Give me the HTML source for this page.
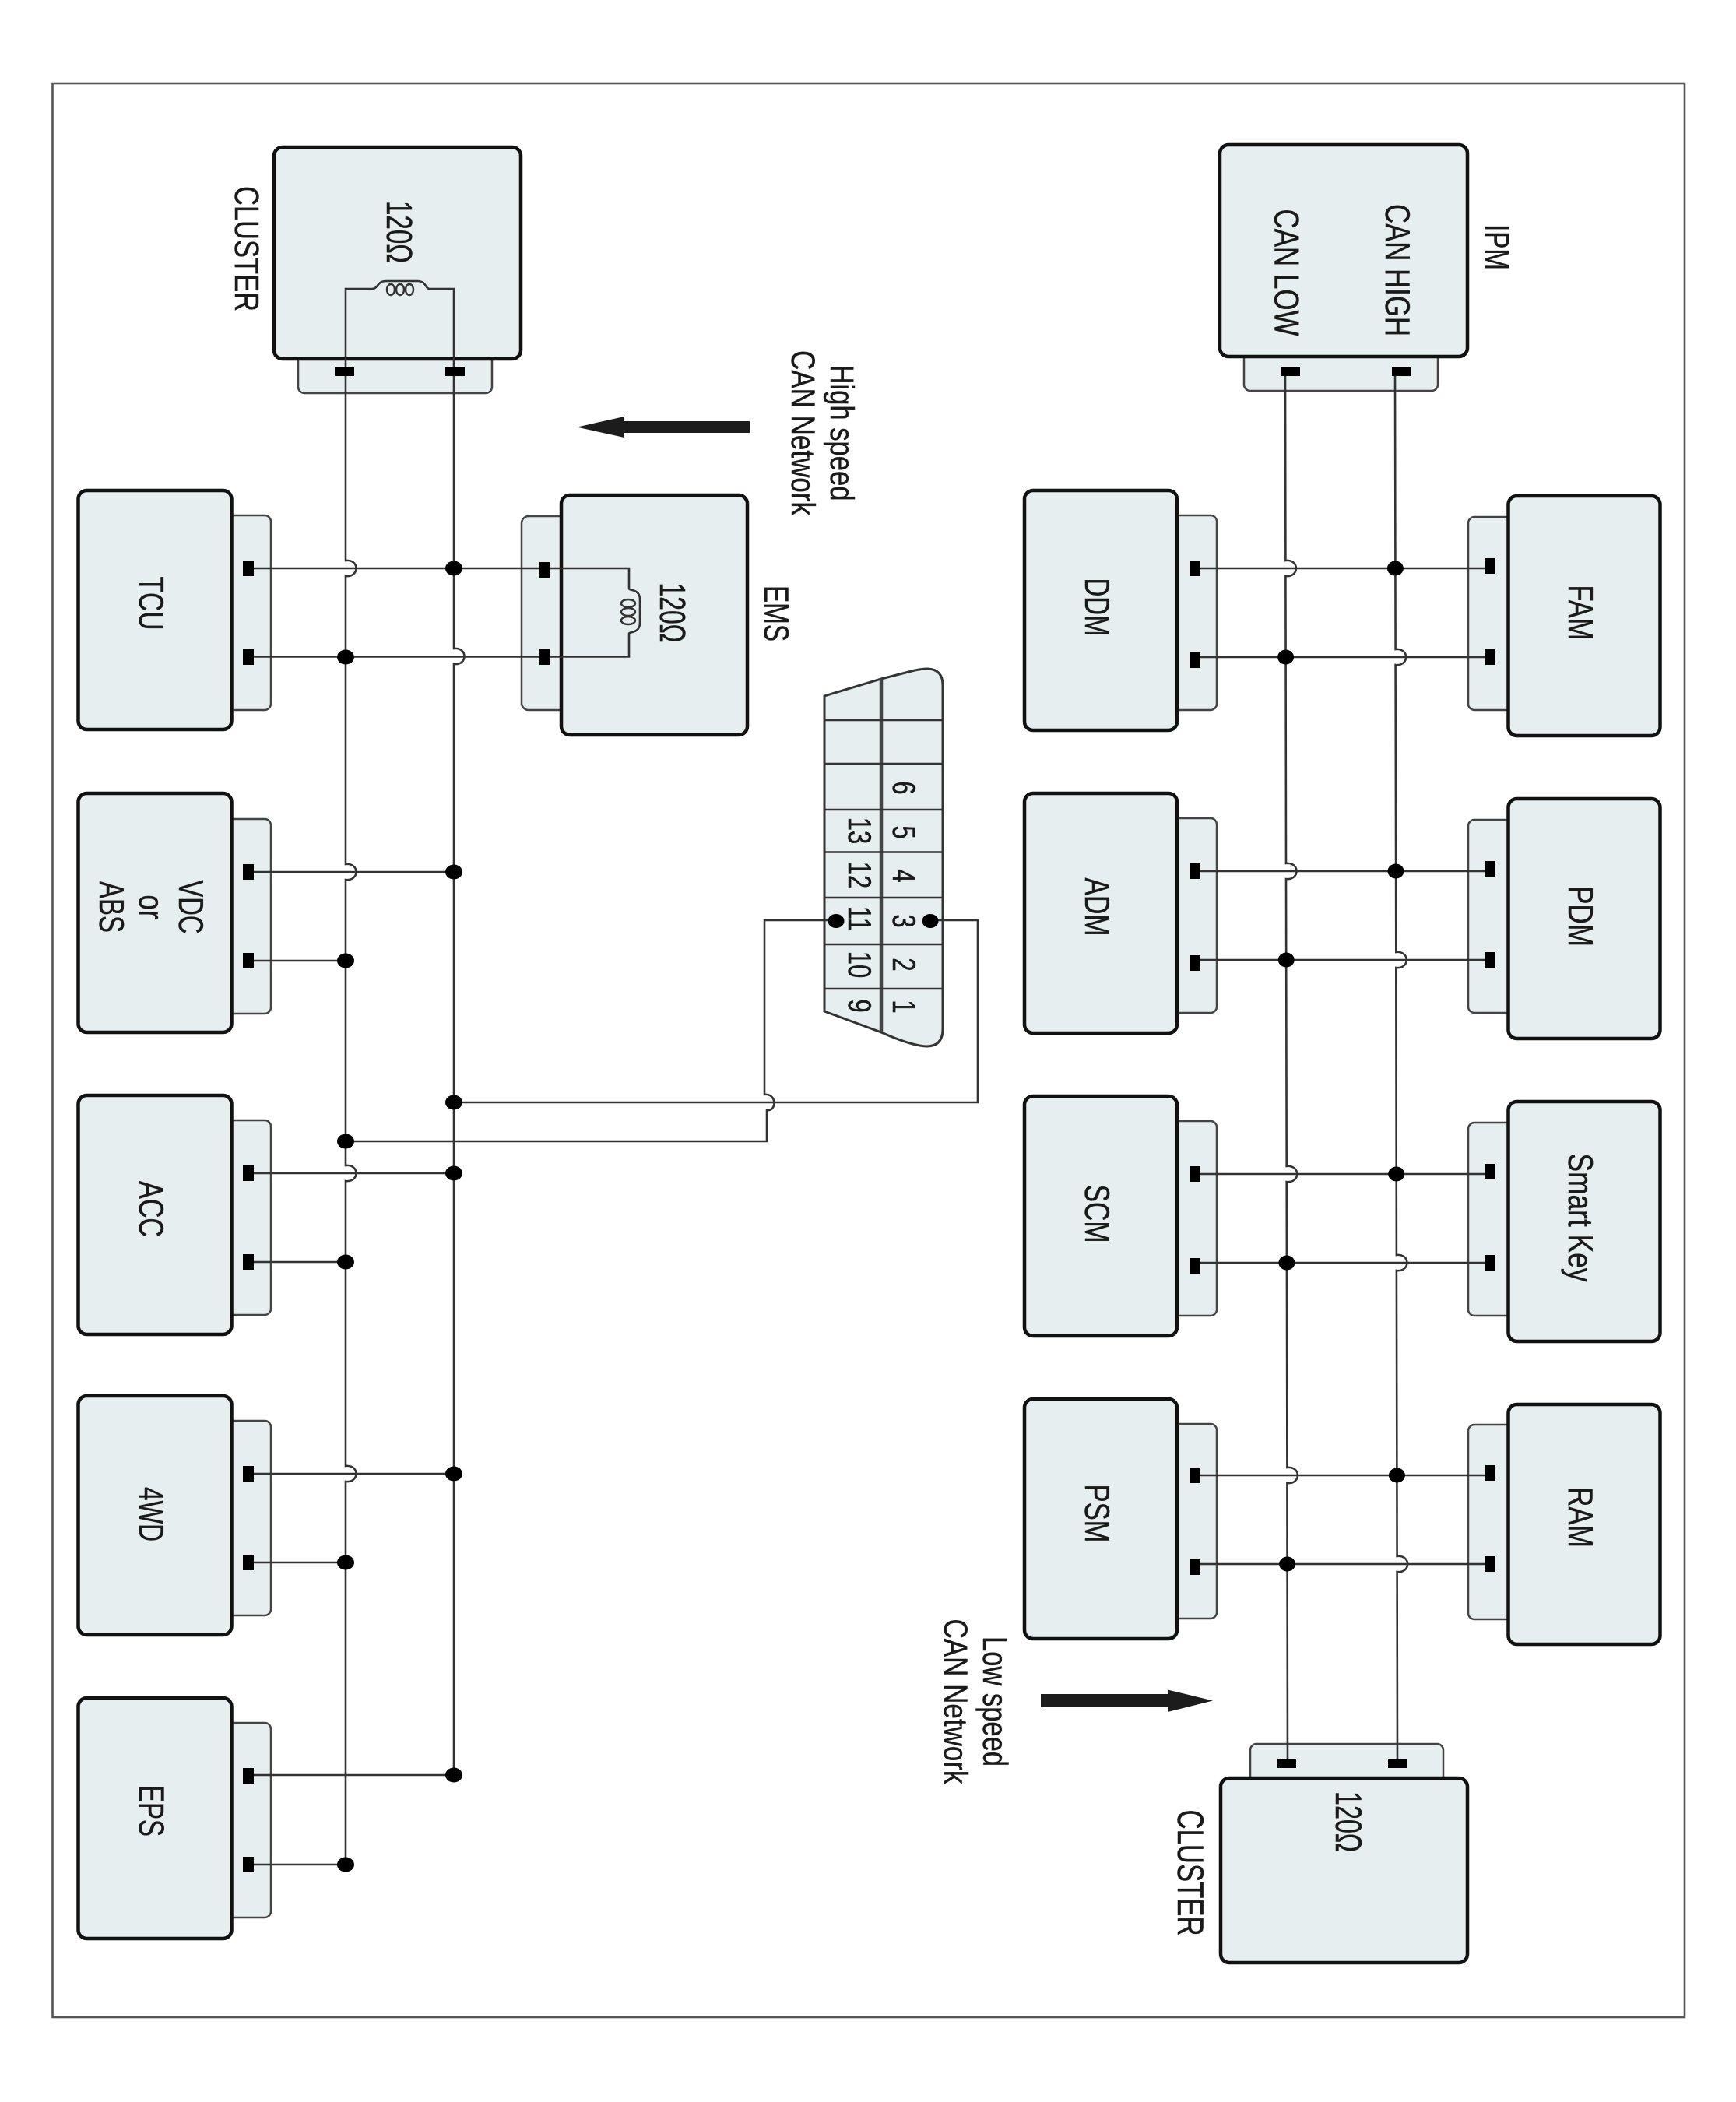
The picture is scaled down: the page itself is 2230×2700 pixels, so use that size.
<!DOCTYPE html>
<html><head><meta charset="utf-8"><style>
html,body{margin:0;padding:0;background:#fff}
svg{display:block}
.b{fill:#e6eef0;stroke:#111;stroke-width:4.5}
.t{fill:#e6eef0;stroke:#444;stroke-width:2.5}
.w{fill:none;stroke:#333;stroke-width:2.6}
.p{fill:#000}
.d{fill:#000}
text{font-family:"Liberation Sans",sans-serif;font-size:33px;fill:#1a1a1a;stroke:#1a1a1a;stroke-width:.35;text-anchor:middle}
</style></head><body>
<svg width="2230" height="2700" viewBox="0 0 2230 2700" xmlns="http://www.w3.org/2000/svg">
<rect width="2230" height="2700" fill="#fff"/>
<rect x="67.5" y="107" width="2096.5" height="2484" fill="#fff" stroke="#555" stroke-width="2.6"/>

<!-- tabs -->
<g class="t">
<rect class="t" x="383" y="430" width="249" height="75" rx="8"/>
<rect class="t" x="1598" y="430" width="249" height="72" rx="8"/>
<rect class="t" x="1606" y="2240" width="248" height="70" rx="8"/>
<rect class="t" x="670" y="663" width="80" height="249" rx="9"/>
<rect class="t" x="270" y="662" width="78" height="250" rx="8"/>
<rect class="t" x="270" y="1052" width="78" height="250" rx="8"/>
<rect class="t" x="270" y="1439" width="78" height="250" rx="8"/>
<rect class="t" x="270" y="1825" width="78" height="250" rx="8"/>
<rect class="t" x="270" y="2213" width="78" height="250" rx="8"/>
<rect class="t" x="1490" y="662" width="73" height="250" rx="8"/>
<rect class="t" x="1490" y="1051" width="73" height="250" rx="8"/>
<rect class="t" x="1490" y="1440" width="73" height="250" rx="8"/>
<rect class="t" x="1490" y="1829" width="73" height="250" rx="8"/>
<rect class="t" x="1886" y="664" width="80" height="248" rx="8"/>
<rect class="t" x="1886" y="1053" width="80" height="248" rx="8"/>
<rect class="t" x="1886" y="1442" width="80" height="248" rx="8"/>
<rect class="t" x="1886" y="1830" width="80" height="250" rx="8"/>
</g>

<!-- boxes -->
<rect class="b" x="352" y="189" width="317" height="272" rx="11"/>
<rect class="b" x="1567" y="186" width="318" height="272" rx="11"/>
<rect class="b" x="1568" y="2284" width="317" height="237" rx="11"/>
<rect class="b" x="721" y="636" width="239" height="308" rx="11"/>
<rect class="b" x="100.5" y="630" width="197" height="307" rx="11"/>
<rect class="b" x="100.5" y="1019" width="197" height="307" rx="11"/>
<rect class="b" x="100.5" y="1407" width="197" height="307" rx="11"/>
<rect class="b" x="100.5" y="1793" width="197" height="307" rx="11"/>
<rect class="b" x="100.5" y="2181" width="197" height="309" rx="11"/>
<rect class="b" x="1316" y="630" width="196" height="308" rx="11"/>
<rect class="b" x="1316" y="1019" width="196" height="308" rx="11"/>
<rect class="b" x="1316" y="1408" width="196" height="308" rx="11"/>
<rect class="b" x="1316" y="1797" width="196" height="308" rx="11"/>
<rect class="b" x="1937.5" y="637" width="195" height="308" rx="11"/>
<rect class="b" x="1937.5" y="1026" width="195" height="308" rx="11"/>
<rect class="b" x="1937.5" y="1415" width="195" height="308" rx="11"/>
<rect class="b" x="1937.5" y="1804" width="195" height="308" rx="11"/>

<!-- OBD connector -->
<path d="M1059,894 L1132,872 L1175,861 Q1185,859 1192,859 Q1211,860 1211,880 V1322 Q1211,1344 1190,1344 Q1170,1343 1132,1326 L1059,1299 Z" fill="#e6eef0" stroke="#333" stroke-width="3"/>
<path d="M1132,872 V1326" fill="none" stroke="#444" stroke-width="4.5"/>
<path d="M1059,925H1211M1059,981H1211M1059,1040H1211M1059,1094.5H1211M1059,1153H1211M1059,1213H1211M1059,1270H1211" fill="none" stroke="#333" stroke-width="2.4"/>

<!-- wires -->
<path class="w" d="M444,477 V371 H478 C486,371 484,361 496,361 H536 C548,361 546,371 552,371 H583 V477"/>
<g fill="none" stroke="#333" stroke-width="2.4"><ellipse cx="502" cy="372" rx="5" ry="7"/><ellipse cx="514" cy="372" rx="5" ry="7"/><ellipse cx="526" cy="372" rx="5" ry="7"/></g>
<path class="w" d="M444,477 V720 c18,-2 18,22 0,20 V1110 c18,-2 18,22 0,20 V1497 c18,-2 18,22 0,20 V1883 c18,-2 18,22 0,20 V2395"/>
<path class="w" d="M583,477 V833 c18,-2 18,22 0,20 V2280"/>
<path class="w" d="M1651,477 L1651.4,720 c18,-2 18,22 0,20 L1652,1109 c18,-2 18,22 0,20 L1652.7,1498 c18,-2 18,22 0,20 L1653.4,1885 c18,-2 18,22 0,20 L1654,2265"/>
<path class="w" d="M1792,477 L1792.6,834 c18,-2 18,22 0,20 L1793.3,1223 c18,-2 18,22 0,20 L1793.9,1612 c18,-2 18,22 0,20 L1794.6,1999 c18,-2 18,22 0,20 L1795,2265"/>
<!-- horizontals -->
<path class="w" d="M326,730 H808 V756 C808,759 822,756 822,770 V800 C822,814 808,811 808,814 V843.5 H326"/>
<g fill="none" stroke="#333" stroke-width="2.4"><ellipse cx="807" cy="775" rx="9" ry="5"/><ellipse cx="807" cy="786" rx="9" ry="5"/><ellipse cx="807" cy="797" rx="9" ry="5"/></g>
<path class="w" d="M326,1120H583M326,1234H444M326,1507H583M326,1621H444M326,1893H583M326,2007H444M326,2280H583M326,2395H444"/>
<path class="w" d="M1542,730H1908M1542,844H1908M1542,1119H1908M1542,1233H1908M1542,1508H1908M1542,1622H1908M1542,1895H1908M1542,2009H1908"/>
<!-- OBD wires -->
<path class="w" d="M1195,1182 H1256 V1416 H583"/>
<path class="w" d="M1074,1182 H982 V1406 c16,-2 16,22 3,20 V1466 H444"/>

<!-- ports -->
<g class="p">
<rect x="430" y="471" width="25" height="12"/><rect x="572" y="471" width="25" height="12"/>
<rect x="1645" y="471" width="25" height="12"/><rect x="1788" y="471" width="25" height="12"/>
<rect x="1641" y="2259" width="24" height="12"/><rect x="1783" y="2259" width="25" height="12"/>
<rect x="693" y="722" width="14" height="20"/><rect x="693" y="834" width="14" height="20"/>
<rect x="312" y="720" width="14" height="20"/><rect x="312" y="834" width="14" height="20"/>
<rect x="312" y="1110" width="14" height="20"/><rect x="312" y="1224" width="14" height="20"/>
<rect x="312" y="1497" width="14" height="20"/><rect x="312" y="1611" width="14" height="20"/>
<rect x="312" y="1883" width="14" height="20"/><rect x="312" y="1997" width="14" height="20"/>
<rect x="312" y="2271" width="14" height="20"/><rect x="312" y="2385" width="14" height="20"/>
<rect x="1528" y="720" width="14" height="20"/><rect x="1528" y="838" width="14" height="20"/>
<rect x="1528" y="1109" width="14" height="20"/><rect x="1528" y="1227" width="14" height="20"/>
<rect x="1528" y="1498" width="14" height="20"/><rect x="1528" y="1616" width="14" height="20"/>
<rect x="1528" y="1885" width="14" height="20"/><rect x="1528" y="2003" width="14" height="20"/>
<rect x="1908" y="717" width="13" height="20"/><rect x="1908" y="834" width="13" height="20"/>
<rect x="1908" y="1106" width="13" height="20"/><rect x="1908" y="1223" width="13" height="20"/>
<rect x="1908" y="1495" width="13" height="20"/><rect x="1908" y="1612" width="13" height="20"/>
<rect x="1908" y="1882" width="13" height="20"/><rect x="1908" y="1999" width="13" height="20"/>
</g>

<!-- dots -->
<g class="d">
<ellipse cx="583" cy="730" rx="11" ry="9.5"/><ellipse cx="583" cy="1120" rx="11" ry="9.5"/><ellipse cx="583" cy="1416" rx="11" ry="9.5"/><ellipse cx="583" cy="1507" rx="11" ry="9.5"/><ellipse cx="583" cy="1893" rx="11" ry="9.5"/><ellipse cx="583" cy="2280" rx="11" ry="9.5"/>
<ellipse cx="444" cy="844" rx="11" ry="9.5"/><ellipse cx="444" cy="1234" rx="11" ry="9.5"/><ellipse cx="444" cy="1466" rx="11" ry="9.5"/><ellipse cx="444" cy="1621" rx="11" ry="9.5"/><ellipse cx="444" cy="2007" rx="11" ry="9.5"/><ellipse cx="444" cy="2395" rx="11" ry="9.5"/>
<ellipse cx="1792.4" cy="730" rx="10.5" ry="9.5"/><ellipse cx="1793" cy="1119" rx="10.5" ry="9.5"/><ellipse cx="1793.7" cy="1508" rx="10.5" ry="9.5"/><ellipse cx="1794.4" cy="1895" rx="10.5" ry="9.5"/>
<ellipse cx="1651.6" cy="844" rx="10.5" ry="9.5"/><ellipse cx="1652.3" cy="1233" rx="10.5" ry="9.5"/><ellipse cx="1652.9" cy="1622" rx="10.5" ry="9.5"/><ellipse cx="1653.6" cy="2009" rx="10.5" ry="9.5"/>
<ellipse cx="1074" cy="1183" rx="10.5" ry="9"/><ellipse cx="1195" cy="1183" rx="10.5" ry="9"/>
</g>

<!-- arrows -->
<path d="M741,548.6 L802,535 V541 H963 V556 H802 V562 Z" fill="#1c1c1c"/>
<path d="M1337,2176 H1500 V2170.5 L1558,2184.5 L1500,2199 V2193 H1337 Z" fill="#1c1c1c"/>

<!-- labels -->
<text transform="translate(302,319.5) rotate(90) scale(1,1.33)" textLength="161" lengthAdjust="spacingAndGlyphs">CLUSTER</text>
<text transform="translate(497,298) rotate(90) scale(1,1.4)" textLength="80" lengthAdjust="spacingAndGlyphs">120Ω</text>
<text transform="translate(179,775) rotate(90) scale(1,1.35)" textLength="69" lengthAdjust="spacingAndGlyphs">TCU</text>
<text transform="translate(230,1165) rotate(90) scale(1,1.35)" textLength="69" lengthAdjust="spacingAndGlyphs">VDC</text>
<text transform="translate(179,1165) rotate(90) scale(1,1.35)" textLength="31" lengthAdjust="spacingAndGlyphs">or</text>
<text transform="translate(128,1165) rotate(90) scale(1,1.35)" textLength="66" lengthAdjust="spacingAndGlyphs">ABS</text>
<text transform="translate(179,1553) rotate(90) scale(1,1.35)" textLength="72" lengthAdjust="spacingAndGlyphs">ACC</text>
<text transform="translate(179,1945) rotate(90) scale(1,1.35)" textLength="70" lengthAdjust="spacingAndGlyphs">4WD</text>
<text transform="translate(179,2326) rotate(90) scale(1,1.38)" textLength="66" lengthAdjust="spacingAndGlyphs">EPS</text>
<text transform="translate(848,787) rotate(90) scale(1,1.4)" textLength="77" lengthAdjust="spacingAndGlyphs">120Ω</text>
<text transform="translate(982,788) rotate(90) scale(1,1.35)" textLength="72" lengthAdjust="spacingAndGlyphs">EMS</text>
<text transform="translate(1067,556) rotate(90) scale(1,1.3)" textLength="175" lengthAdjust="spacingAndGlyphs">High speed</text>
<text transform="translate(1017,556) rotate(90) scale(1,1.3)" textLength="212" lengthAdjust="spacingAndGlyphs">CAN Network</text>
<text transform="translate(1263,2185.5) rotate(90) scale(1,1.35)" textLength="167" lengthAdjust="spacingAndGlyphs">Low speed</text>
<text transform="translate(1213,2185.5) rotate(90) scale(1,1.3)" textLength="212" lengthAdjust="spacingAndGlyphs">CAN Network</text>
<text transform="translate(1907.5,317.5) rotate(90) scale(1,1.35)" textLength="59" lengthAdjust="spacingAndGlyphs">IPM</text>
<text transform="translate(1780,347) rotate(90) scale(1,1.35)" textLength="170" lengthAdjust="spacingAndGlyphs">CAN HIGH</text>
<text transform="translate(1637.5,350) rotate(90) scale(1,1.35)" textLength="163" lengthAdjust="spacingAndGlyphs">CAN LOW</text>
<text transform="translate(1394,780) rotate(90) scale(1,1.35)" textLength="75" lengthAdjust="spacingAndGlyphs">DDM</text>
<text transform="translate(1394,1165) rotate(90) scale(1,1.35)" textLength="75" lengthAdjust="spacingAndGlyphs">ADM</text>
<text transform="translate(1394,1559) rotate(90) scale(1,1.35)" textLength="75" lengthAdjust="spacingAndGlyphs">SCM</text>
<text transform="translate(1394,1944) rotate(90) scale(1,1.35)" textLength="75" lengthAdjust="spacingAndGlyphs">PSM</text>
<text transform="translate(2015,787) rotate(90) scale(1,1.35)" textLength="71" lengthAdjust="spacingAndGlyphs">FAM</text>
<text transform="translate(2015,1177) rotate(90) scale(1,1.35)" textLength="78" lengthAdjust="spacingAndGlyphs">PDM</text>
<text transform="translate(2015,1564) rotate(90) scale(1,1.35)" textLength="165" lengthAdjust="spacingAndGlyphs">Smart Key</text>
<text transform="translate(2015,1949) rotate(90) scale(1,1.35)" textLength="78" lengthAdjust="spacingAndGlyphs">RAM</text>
<text transform="translate(1513,2405.5) rotate(90) scale(1,1.42)" textLength="162" lengthAdjust="spacingAndGlyphs">CLUSTER</text>
<text transform="translate(1716,2340) rotate(90) scale(1,1.42)" textLength="78" lengthAdjust="spacingAndGlyphs">120Ω</text>

<!-- OBD pin numbers -->
<g>
<text transform="translate(1147,1012) rotate(90) scale(1,1.35)" style="font-size:31px">6</text>
<text transform="translate(1147,1069) rotate(90) scale(1,1.35)" style="font-size:31px">5</text>
<text transform="translate(1147,1125) rotate(90) scale(1,1.35)" style="font-size:31px">4</text>
<text transform="translate(1147,1183) rotate(90) scale(1,1.35)" style="font-size:31px">3</text>
<text transform="translate(1147,1239) rotate(90) scale(1,1.35)" style="font-size:31px">2</text>
<text transform="translate(1147,1293) rotate(90) scale(1,1.35)" style="font-size:31px">1</text>
<text transform="translate(1090,1067) rotate(90) scale(1,1.35)" style="font-size:31px">13</text>
<text transform="translate(1090,1124) rotate(90) scale(1,1.35)" style="font-size:31px">12</text>
<text transform="translate(1090,1180) rotate(90) scale(1,1.35)" style="font-size:31px">11</text>
<text transform="translate(1090,1239) rotate(90) scale(1,1.35)" style="font-size:31px">10</text>
<text transform="translate(1090,1292) rotate(90) scale(1,1.35)" style="font-size:31px">9</text>
</g>
</svg>
</body></html>
